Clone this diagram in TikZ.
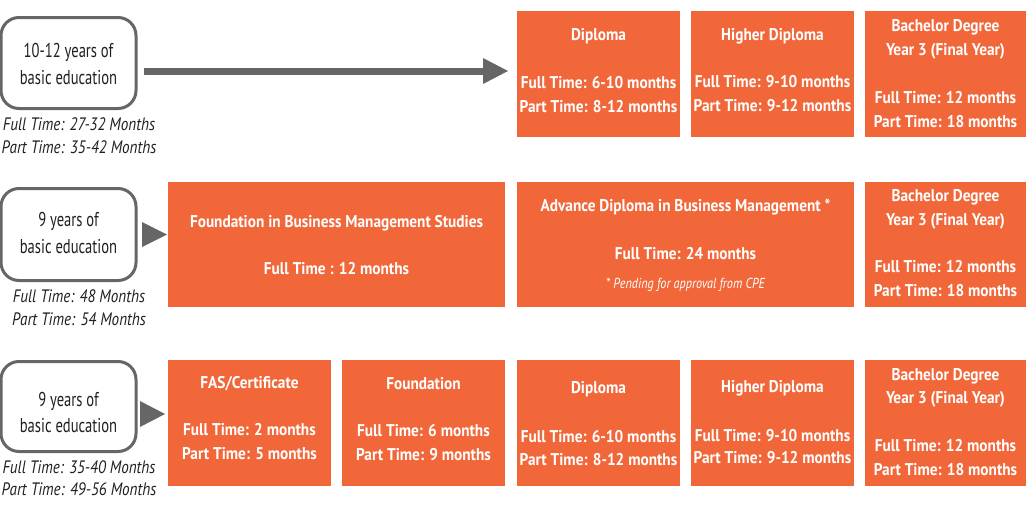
\documentclass[tikz,border=0pt]{standalone}
\usepackage{fontspec}
\setmainfont{PT Sans}[FakeStretch=0.84]
\newfontfamily\bfcond{PT Sans}[FakeStretch=0.9]
\newfontfamily\regcond{PT Sans}[FakeStretch=0.73]
\usetikzlibrary{arrows.meta}
\definecolor{org}{HTML}{F26739}
\definecolor{agray}{HTML}{666666}
\definecolor{tdark}{HTML}{231F20}
\begin{document}
\begin{tikzpicture}[x=1pt,y=-1pt,
  obox/.style={fill=org,draw=none,inner sep=0pt,outer sep=0pt,anchor=north west},
  rbox/.style={draw=agray,line width=3pt,rounded corners=18pt,fill=white,inner sep=0pt,outer sep=0pt,anchor=north west},
  wt/.style={text=white,font=\bfcond\bfseries\fontsize{17}{17}\selectfont,anchor=base,inner sep=0pt},
  wn/.style={text=white,font=\itshape\fontsize{14.5}{14.5}\selectfont,anchor=base,inner sep=0pt},
  dt/.style={text=tdark,font=\regcond\fontsize{20}{20}\selectfont,anchor=base,inner sep=0pt},
  it/.style={text=tdark,font=\itshape\fontsize{18}{18}\selectfont,anchor=base,inner sep=0pt},
  conn/.style={draw=agray,line width=7pt,-{Triangle[length=25pt,width=26pt,line width=0pt]}},
  tri/.style={fill=agray,draw=none}
]
\useasboundingbox (0,0) rectangle (1026,506);

% ---------- Row 1 ----------
\node[rbox,minimum width=135pt,minimum height=91pt] (r1) at (1,17.5) {};
\node[dt] (r1a) at (68.5,57) {10-12 years of};
\node[dt] (r1b) at (68.5,84) {basic education};
\node[it] (r1c) at (79,130.5) {Full Time: 27-32 Months};
\node[it] (r1d) at (79,153.5) {Part Time: 35-42 Months};

\node[obox,minimum width=163pt,minimum height=126pt] (d1) at (517,11) {};
\node[wt] (d1a) at (598.5,40.5) {Diploma};
\node[wt] (d1b) at (598.5,88.5) {Full Time: 6-10 months};
\node[wt] (d1c) at (598.5,112) {Part Time: 8-12 months};

\node[obox,minimum width=163pt,minimum height=126pt] (h1) at (691,11) {};
\node[wt] (h1a) at (772.5,40) {Higher Diploma};
\node[wt] (h1b) at (772.5,87.5) {Full Time: 9-10 months};
\node[wt] (h1c) at (772.5,111.5) {Part Time: 9-12 months};

\node[obox,minimum width=161pt,minimum height=126pt] (b1) at (865,11) {};
\node[wt] (b1a) at (945.5,31.5) {Bachelor Degree};
\node[wt] (b1b) at (945.5,55.5) {Year 3 (Final Year)};
\node[wt] (b1c) at (945.5,103.5) {Full Time: 12 months};
\node[wt] (b1d) at (945.5,127.5) {Part Time: 18 months};

\coordinate (a1s) at (144,71);
\draw[conn,shorten >=9pt] (a1s) -- (a1s -| d1.west);

% ---------- Row 2 ----------
\node[rbox,minimum width=135pt,minimum height=92pt] (r2) at (1,188.5) {};
\node[dt] (r2a) at (68.5,226) {9 years of};
\node[dt] (r2b) at (68.5,253) {basic education};
\node[it] (r2c) at (79,302.5) {Full Time: 48 Months};
\node[it] (r2d) at (79,325.5) {Part Time: 54 Months};

\node[obox,minimum width=337pt,minimum height=125pt] (f2) at (168,182) {};
\node[wt] (f2a) at (336.5,227) {Foundation in Business Management Studies};
\node[wt] (f2b) at (336.5,274.5) {Full Time : 12 months};

\node[obox,minimum width=337pt,minimum height=125pt] (a2) at (517,182) {};
\node[wt] (a2a) at (685.5,211.5) {Advance Diploma in Business Management *};
\node[wt] (a2b) at (685.5,259.5) {Full Time: 24 months};
\node[wn] (a2c) at (685.5,288) {* Pending for approval from CPE};

\node[obox,minimum width=161pt,minimum height=125pt] (b2) at (865,182) {};
\node[wt] (b2a) at (945.5,201.5) {Bachelor Degree};
\node[wt] (b2b) at (945.5,225.5) {Year 3 (Final Year)};
\node[wt] (b2c) at (945.5,272.5) {Full Time: 12 months};
\node[wt] (b2d) at (945.5,296.5) {Part Time: 18 months};

\coordinate (t2) at (167,234.5);
\fill[tri] (t2) -- ++(-25,-12.5) -- ++(0,25) -- cycle;

% ---------- Row 3 ----------
\node[rbox,minimum width=135pt,minimum height=90pt] (r3) at (1,361.5) {};
\node[dt] (r3a) at (68.5,406) {9 years of};
\node[dt] (r3b) at (68.5,432) {basic education};
\node[it] (r3c) at (79,473.5) {Full Time: 35-40 Months};
\node[it] (r3d) at (79,495.5) {Part Time: 49-56 Months};

\node[obox,minimum width=163pt,minimum height=126pt] (c3) at (168,360) {};
\node[wt] (c3a) at (249.5,388.5) {FAS/Certificate};
\node[wt] (c3b) at (249.5,435.5) {Full Time: 2 months};
\node[wt] (c3c) at (249.5,459.5) {Part Time: 5 months};

\node[obox,minimum width=163pt,minimum height=126pt] (f3) at (342,360) {};
\node[wt] (f3a) at (423.5,389) {Foundation};
\node[wt] (f3b) at (423.5,436) {Full Time: 6 months};
\node[wt] (f3c) at (423.5,460) {Part Time: 9 months};

\node[obox,minimum width=163pt,minimum height=126pt] (d3) at (517,360) {};
\node[wt] (d3a) at (598.5,393.5) {Diploma};
\node[wt] (d3b) at (598.5,442.5) {Full Time: 6-10 months};
\node[wt] (d3c) at (598.5,465.5) {Part Time: 8-12 months};

\node[obox,minimum width=163pt,minimum height=126pt] (h3) at (691,360) {};
\node[wt] (h3a) at (772.5,392.5) {Higher Diploma};
\node[wt] (h3b) at (772.5,441.5) {Full Time: 9-10 months};
\node[wt] (h3c) at (772.5,463.5) {Part Time: 9-12 months};

\node[obox,minimum width=161pt,minimum height=126pt] (b3) at (865,360) {};
\node[wt] (b3a) at (945.5,380.5) {Bachelor Degree};
\node[wt] (b3b) at (945.5,403.5) {Year 3 (Final Year)};
\node[wt] (b3c) at (945.5,451.5) {Full Time: 12 months};
\node[wt] (b3d) at (945.5,475.5) {Part Time: 18 months};

\coordinate (t3) at (165,414);
\fill[tri] (t3) -- ++(-25,-13) -- ++(0,26) -- cycle;
\end{tikzpicture}
\end{document}
